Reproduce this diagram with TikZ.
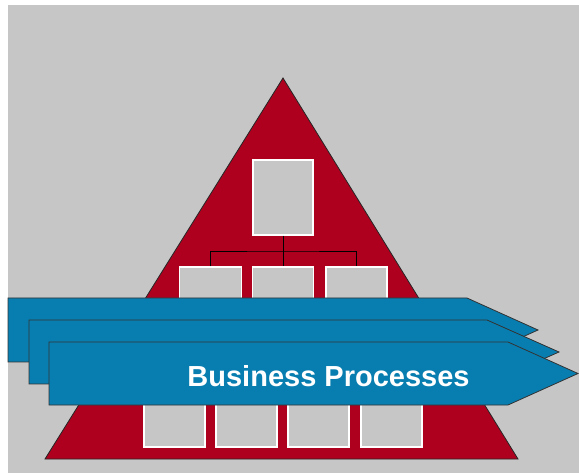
\documentclass[tikz,border=0pt]{standalone}
\usepackage{fontspec}
\setmainfont{Liberation Sans}
\definecolor{bggrey}{RGB}{198,198,198}
\definecolor{pyrred}{RGB}{174,0,30}
\definecolor{procblue}{RGB}{8,126,176}
\tikzset{
  orgbox/.style={rectangle, fill=bggrey, draw=white, line width=1.3pt, inner sep=0pt},
  procarrow/.style={fill=procblue, draw=black!80, line width=0.8pt, line join=miter},
  link/.style={draw=black, line width=0.9pt}
}
\begin{document}
\begin{tikzpicture}[x=1pt,y=-1pt]
\useasboundingbox (0,0) rectangle (579,473);
\fill[white] (0,0) rectangle (579,473);
\fill[bggrey] (8,5) rectangle (579,473);
% pyramid
\draw[fill=pyrred, draw=black!85, line width=0.8pt, line join=miter] (283,78) -- (518,459) -- (45,459) -- cycle;
% top box
\node[orgbox, minimum width=60pt, minimum height=75pt] (top) at (283,197.5) {};
% middle boxes
\node[orgbox, minimum width=62pt, minimum height=34pt] (m1) at (210.5,284) {};
\node[orgbox, minimum width=61pt, minimum height=34pt] (m2) at (283,284) {};
\node[orgbox, minimum width=61pt, minimum height=34pt] (m3) at (356.5,284) {};
\coordinate (bus) at (283,251);
\draw[link] (top.south) -- (m2.north);
\draw[link] (m1.north) |- (bus) -| (m3.north);
% bottom boxes
\node[orgbox, minimum width=61pt, minimum height=52pt] (b1) at (174.5,421) {};
\node[orgbox, minimum width=61pt, minimum height=52pt] (b2) at (246.5,421) {};
\node[orgbox, minimum width=61pt, minimum height=52pt] (b3) at (318.5,421) {};
\node[orgbox, minimum width=61pt, minimum height=52pt] (b4) at (391.5,421) {};
% process arrows
\path[procarrow] (8,298) -- (467,298) -- (538,330) -- (467,362) -- (8,362) -- cycle;
\path[procarrow] (29,320) -- (487,320) -- (559,352) -- (487,384) -- (29,384) -- cycle;
\path[procarrow] (49,342) -- (508,342) -- (578,373.5) -- (508,405) -- (49,405) -- cycle;
\node[anchor=base, text=white, font=\bfseries\fontsize{29}{29}\selectfont, inner sep=0pt] (label) at (328.5,387) {Business Processes};
\end{tikzpicture}
\end{document}
